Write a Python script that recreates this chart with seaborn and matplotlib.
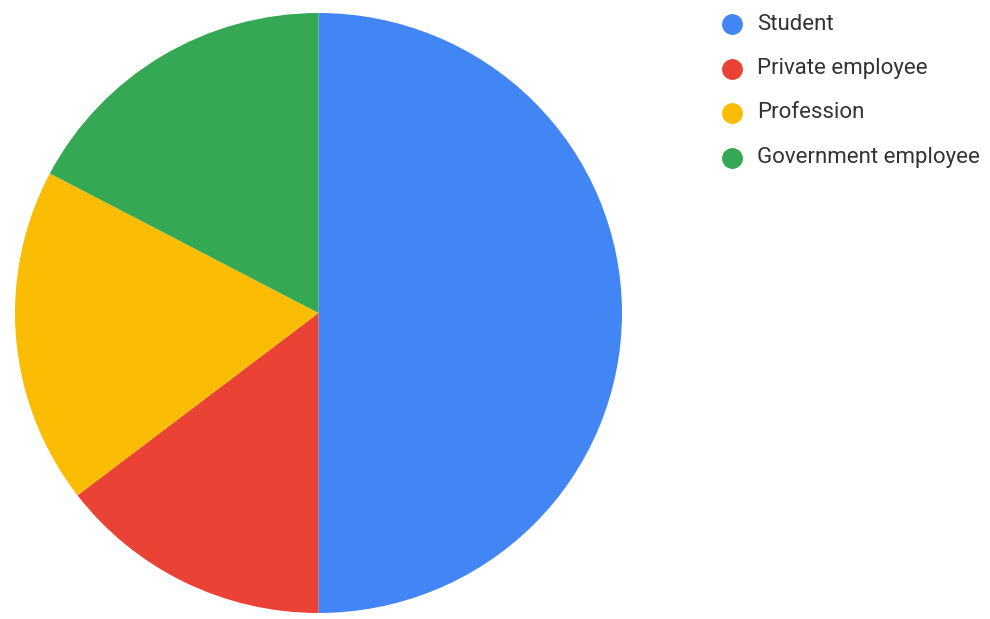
import matplotlib
matplotlib.use("Agg")
import matplotlib.pyplot as plt
import seaborn as sns

# Occupation breakdown of respondents (percent)
categories = ["Student", "Private employee", "Profession", "Government employee"]
shares = [50.0, 14.6, 18.1, 17.3]
colors = ["#4285F4", "#EA4335", "#FBBC04", "#34A853"]

sns.set_theme(style="white")
plt.rcParams["font.family"] = ["Roboto", "DejaVu Sans"]

W, H = 990, 619
fig = plt.figure(figsize=(W / 100, H / 100), dpi=100)
fig.patch.set_facecolor("white")

# Pie area in pixels: centre and half-width / half-height
cx, cy, rx, ry = 318.5, 313, 303.5, 300
ax = fig.add_axes([(cx - rx) / W, (H - cy - ry) / H, 2 * rx / W, 2 * ry / H])
ax.pie(shares, colors=sns.color_palette(colors), startangle=90, counterclock=False,
       radius=1.0, wedgeprops=dict(linewidth=0, antialiased=True))
ax.set_xlim(-1, 1)
ax.set_ylim(-1, 1)
ax.set_aspect("auto")
ax.axis("off")

# Legend: coloured dots with labels, stacked at top right
leg_x, leg_y0, leg_dy = 732, 24, 44.5
for i, (name, col) in enumerate(zip(categories, colors)):
    y = leg_y0 + i * leg_dy
    fig.add_artist(plt.Line2D([leg_x / W], [1 - y / H], marker="o", markersize=14,
                              color=col, linestyle="none", transform=fig.transFigure))
    fig.text((leg_x + 25) / W, 1 - y / H, name, fontsize=16, color="#333333",
             va="center", ha="left")

fig.savefig("out.png", dpi=100, facecolor="white")
